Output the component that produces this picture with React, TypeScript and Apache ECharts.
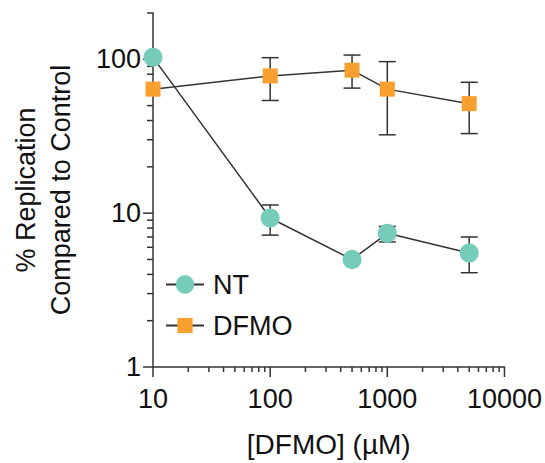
import React, { useEffect, useRef } from "react";
import * as echarts from "echarts";

const doses = [10, 100, 500, 1000, 5000];
const ntMean = [103, 9.3, 5.0, 7.4, 5.5];
const ntLow = [103, 7.2, 5.0, 6.5, 4.1];
const ntHigh = [103, 11.3, 5.0, 8.2, 7.0];
const dfmoMean = [64, 78, 85, 64, 51.5];
const dfmoLow = [64, 54, 65, 32.3, 32.9];
const dfmoHigh = [64, 102.5, 106.6, 96.6, 70.9];

const xTickValues = [
  10, 20, 30, 40, 50, 60, 70, 80, 90,
  100, 200, 300, 400, 500, 600, 700, 800, 900,
  1000, 2000, 3000, 4000, 5000, 6000, 7000, 8000, 9000, 10000,
];
const yTickValues = [1, 2, 3, 4, 5, 6, 7, 8, 9, 10, 20, 30, 40, 50, 60, 70, 80, 90, 100, 200];
const xMajor = [10, 100, 1000, 10000];
const yMajor = [1, 10, 100];

const FONT = "'Liberation Sans', Arial, Helvetica, sans-serif";
const AXIS = "#333333";
const TEAL = "#74CCB9";
const ORANGE = "#F7A02F";
const TEXT = "#111111";

export default function App() {
  const ref = useRef<HTMLDivElement>(null);
  useEffect(() => {
    if (!ref.current) return;
    const chart = echarts.init(ref.current, undefined, { renderer: "svg" });
    const lineStyle = { stroke: AXIS, lineWidth: 1.5 };
    const errRender = (params: any, api: any) => {
      const x = api.value(0);
      const lo = api.value(1);
      const hi = api.value(2);
      if (lo === hi) return { type: "group", children: [] };
      const p1 = api.coord([x, hi]);
      const p2 = api.coord([x, lo]);
      const w = 8.5;
      return {
        type: "group",
        children: [
          { type: "line", shape: { x1: p1[0], y1: p1[1], x2: p2[0], y2: p2[1] }, style: lineStyle },
          { type: "line", shape: { x1: p1[0] - w, y1: p1[1], x2: p1[0] + w, y2: p1[1] }, style: lineStyle },
          { type: "line", shape: { x1: p2[0] - w, y1: p2[1], x2: p2[0] + w, y2: p2[1] }, style: lineStyle },
        ],
      };
    };
    const option: any = {
      animation: false,
      textStyle: { fontFamily: FONT },
      grid: { left: 146, right: 39, top: 13, bottom: 91, containLabel: false },
      legend: [
        {
          data: ["NT"],
          left: 165,
          top: 271,
          padding: 0,
          itemWidth: 38,
          itemHeight: 23,
          selectedMode: false,
          textStyle: { fontSize: 27, color: TEXT, fontFamily: FONT, padding: [0, 0, 0, 4] },
        },
        {
          data: ["DFMO"],
          left: 165,
          top: 312,
          padding: 0,
          itemWidth: 38,
          itemHeight: 19,
          selectedMode: false,
          textStyle: { fontSize: 27, color: TEXT, fontFamily: FONT, padding: [0, 0, 0, 4] },
        },
      ],
      xAxis: {
        type: "log",
        logBase: 10,
        min: 10,
        max: 10000,
        name: "[DFMO] (µM)",
        nameLocation: "middle",
        nameGap: 63,
        nameTextStyle: { fontSize: 28, color: TEXT, fontFamily: FONT },
        axisLine: { show: true, lineStyle: { color: AXIS, width: 1.5 } },
        axisTick: { show: false },
        splitLine: { show: false },
        axisLabel: {
          fontSize: 27,
          color: TEXT,
          fontFamily: FONT,
          margin: 18,
          formatter: (v: number) => String(Math.round(v)),
        },
      },
      yAxis: {
        type: "log",
        logBase: 10,
        min: 1,
        max: 200,
        name: "% Replication\nCompared to Control",
        nameLocation: "middle",
        nameRotate: 90,
        nameGap: 75,
        nameTextStyle: { fontSize: 27, color: TEXT, fontFamily: FONT, lineHeight: 35 },
        axisLine: { show: true, lineStyle: { color: AXIS, width: 1.5 } },
        axisTick: { show: false },
        splitLine: { show: false },
        axisLabel: {
          fontSize: 27,
          color: TEXT,
          fontFamily: FONT,
          margin: 12,
          formatter: (v: number) => {
            const r = Math.round(v);
            return yMajor.indexOf(r) >= 0 ? String(r) : "";
          },
        },
      },
      series: [
        {
          type: "custom",
          name: "xticks",
          silent: true,
          z: 1,
          encode: { x: 0, y: 1 },
          data: xTickValues.map((v) => [v, 1]),
          renderItem: (params: any, api: any) => {
            const v = api.value(0);
            const p = api.coord([v, 1]);
            const len = xMajor.indexOf(Math.round(v)) >= 0 ? 10 : 5;
            return { type: "line", shape: { x1: p[0], y1: p[1], x2: p[0], y2: p[1] + len }, style: lineStyle };
          },
        },
        {
          type: "custom",
          name: "yticks",
          silent: true,
          z: 1,
          encode: { x: 0, y: 1 },
          data: yTickValues.map((v) => [10, v]),
          renderItem: (params: any, api: any) => {
            const v = api.value(1);
            const p = api.coord([10, v]);
            const len = yMajor.indexOf(Math.round(v)) >= 0 ? 10 : 6;
            return { type: "line", shape: { x1: p[0], y1: p[1], x2: p[0] - len, y2: p[1] }, style: lineStyle };
          },
        },
        {
          type: "custom",
          name: "ntErr",
          silent: true,
          z: 1,
          encode: { x: 0, y: [1, 2] },
          data: doses.map((d, i) => [d, ntLow[i], ntHigh[i]]),
          renderItem: errRender,
        },
        {
          type: "custom",
          name: "dfmoErr",
          silent: true,
          z: 1,
          encode: { x: 0, y: [1, 2] },
          data: doses.map((d, i) => [d, dfmoLow[i], dfmoHigh[i]]),
          renderItem: errRender,
        },
        {
          type: "line",
          name: "NT",
          z: 3,
          clip: false,
          symbol: "circle",
          symbolSize: 19,
          data: doses.map((d, i) => [d, ntMean[i]]),
          itemStyle: { color: TEAL, borderWidth: 0 },
          lineStyle: { color: AXIS, width: 1.5 },
        },
        {
          type: "line",
          name: "DFMO",
          z: 2,
          clip: false,
          symbol: "rect",
          symbolSize: 15,
          data: doses.map((d, i) => [d, dfmoMean[i]]),
          itemStyle: { color: ORANGE, borderWidth: 0 },
          lineStyle: { color: AXIS, width: 1.5 },
        },
      ],
    };
    chart.setOption(option);
    return () => chart.dispose();
  }, []);
  return (
    <div
      ref={ref}
      style={{ position: "fixed", left: 0, top: 0, width: 545, height: 463, background: "#fff" }}
    />
  );
}
